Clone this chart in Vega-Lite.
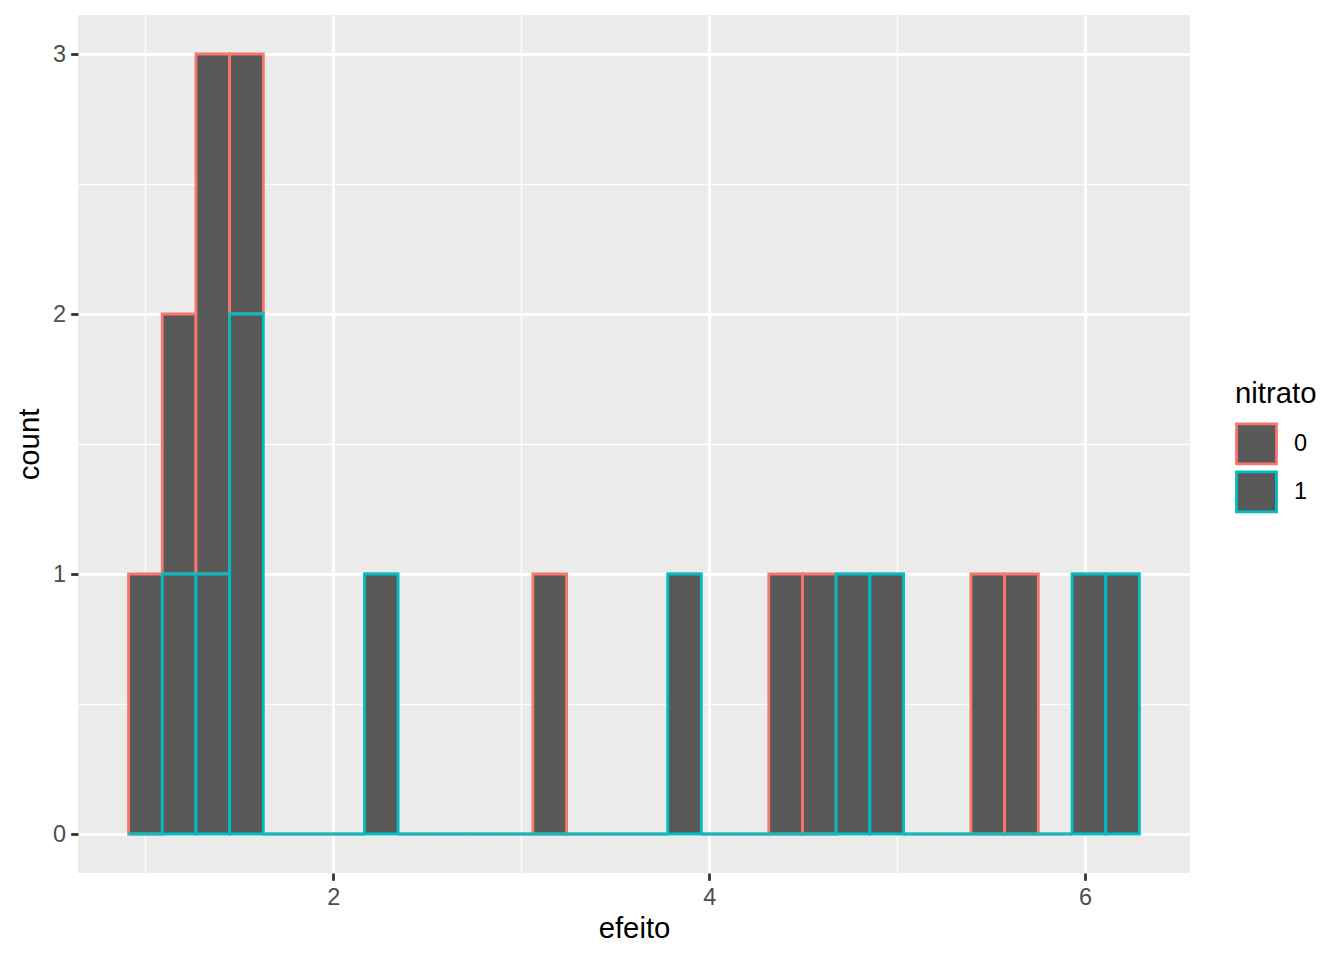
{
  "$schema": "https://vega.github.io/schema/vega-lite/v6.json",
  "description": "Histograma de efeito por nitrato",
  "width": 1112,
  "height": 858,
  "autosize": {"type": "none"},
  "padding": {"left": 78, "top": 15, "right": 154, "bottom": 87},
  "background": "white",
  "config": {
    "font": "Liberation Sans",
    "view": {"fill": "#EBEBEB", "stroke": null},
    "axis": {
      "domain": false,
      "grid": true,
      "gridColor": "white",
      "gridOpacity": 1,
      "tickColor": "#333333",
      "tickWidth": 2.8,
      "tickSize": 7.3,
      "labelColor": "#4D4D4D",
      "labelFontSize": 23.5,
      "labelPadding": 5,
      "titleColor": "black",
      "titleFontSize": 29.3,
      "titleFontWeight": "normal"
    }
  },
  "data": {
    "values": [
      {"nitrato": "0", "inicio": 0.9103, "fim": 1.0897, "count": 1},
      {"nitrato": "0", "inicio": 1.0897, "fim": 1.2690, "count": 1},
      {"nitrato": "0", "inicio": 1.2690, "fim": 1.4483, "count": 2},
      {"nitrato": "0", "inicio": 1.4483, "fim": 1.6276, "count": 1},
      {"nitrato": "0", "inicio": 1.6276, "fim": 1.8069, "count": 0},
      {"nitrato": "0", "inicio": 1.8069, "fim": 1.9862, "count": 0},
      {"nitrato": "0", "inicio": 1.9862, "fim": 2.1655, "count": 0},
      {"nitrato": "0", "inicio": 2.1655, "fim": 2.3448, "count": 0},
      {"nitrato": "0", "inicio": 2.3448, "fim": 2.5241, "count": 0},
      {"nitrato": "0", "inicio": 2.5241, "fim": 2.7034, "count": 0},
      {"nitrato": "0", "inicio": 2.7034, "fim": 2.8828, "count": 0},
      {"nitrato": "0", "inicio": 2.8828, "fim": 3.0621, "count": 0},
      {"nitrato": "0", "inicio": 3.0621, "fim": 3.2414, "count": 1},
      {"nitrato": "0", "inicio": 3.2414, "fim": 3.4207, "count": 0},
      {"nitrato": "0", "inicio": 3.4207, "fim": 3.6000, "count": 0},
      {"nitrato": "0", "inicio": 3.6000, "fim": 3.7793, "count": 0},
      {"nitrato": "0", "inicio": 3.7793, "fim": 3.9586, "count": 0},
      {"nitrato": "0", "inicio": 3.9586, "fim": 4.1379, "count": 0},
      {"nitrato": "0", "inicio": 4.1379, "fim": 4.3172, "count": 0},
      {"nitrato": "0", "inicio": 4.3172, "fim": 4.4966, "count": 1},
      {"nitrato": "0", "inicio": 4.4966, "fim": 4.6759, "count": 1},
      {"nitrato": "0", "inicio": 4.6759, "fim": 4.8552, "count": 0},
      {"nitrato": "0", "inicio": 4.8552, "fim": 5.0345, "count": 0},
      {"nitrato": "0", "inicio": 5.0345, "fim": 5.2138, "count": 0},
      {"nitrato": "0", "inicio": 5.2138, "fim": 5.3931, "count": 0},
      {"nitrato": "0", "inicio": 5.3931, "fim": 5.5724, "count": 1},
      {"nitrato": "0", "inicio": 5.5724, "fim": 5.7517, "count": 1},
      {"nitrato": "0", "inicio": 5.7517, "fim": 5.9310, "count": 0},
      {"nitrato": "0", "inicio": 5.9310, "fim": 6.1103, "count": 0},
      {"nitrato": "0", "inicio": 6.1103, "fim": 6.2897, "count": 0},
      {"nitrato": "1", "inicio": 0.9103, "fim": 1.0897, "count": 0},
      {"nitrato": "1", "inicio": 1.0897, "fim": 1.2690, "count": 1},
      {"nitrato": "1", "inicio": 1.2690, "fim": 1.4483, "count": 1},
      {"nitrato": "1", "inicio": 1.4483, "fim": 1.6276, "count": 2},
      {"nitrato": "1", "inicio": 1.6276, "fim": 1.8069, "count": 0},
      {"nitrato": "1", "inicio": 1.8069, "fim": 1.9862, "count": 0},
      {"nitrato": "1", "inicio": 1.9862, "fim": 2.1655, "count": 0},
      {"nitrato": "1", "inicio": 2.1655, "fim": 2.3448, "count": 1},
      {"nitrato": "1", "inicio": 2.3448, "fim": 2.5241, "count": 0},
      {"nitrato": "1", "inicio": 2.5241, "fim": 2.7034, "count": 0},
      {"nitrato": "1", "inicio": 2.7034, "fim": 2.8828, "count": 0},
      {"nitrato": "1", "inicio": 2.8828, "fim": 3.0621, "count": 0},
      {"nitrato": "1", "inicio": 3.0621, "fim": 3.2414, "count": 0},
      {"nitrato": "1", "inicio": 3.2414, "fim": 3.4207, "count": 0},
      {"nitrato": "1", "inicio": 3.4207, "fim": 3.6000, "count": 0},
      {"nitrato": "1", "inicio": 3.6000, "fim": 3.7793, "count": 0},
      {"nitrato": "1", "inicio": 3.7793, "fim": 3.9586, "count": 1},
      {"nitrato": "1", "inicio": 3.9586, "fim": 4.1379, "count": 0},
      {"nitrato": "1", "inicio": 4.1379, "fim": 4.3172, "count": 0},
      {"nitrato": "1", "inicio": 4.3172, "fim": 4.4966, "count": 0},
      {"nitrato": "1", "inicio": 4.4966, "fim": 4.6759, "count": 0},
      {"nitrato": "1", "inicio": 4.6759, "fim": 4.8552, "count": 1},
      {"nitrato": "1", "inicio": 4.8552, "fim": 5.0345, "count": 1},
      {"nitrato": "1", "inicio": 5.0345, "fim": 5.2138, "count": 0},
      {"nitrato": "1", "inicio": 5.2138, "fim": 5.3931, "count": 0},
      {"nitrato": "1", "inicio": 5.3931, "fim": 5.5724, "count": 0},
      {"nitrato": "1", "inicio": 5.5724, "fim": 5.7517, "count": 0},
      {"nitrato": "1", "inicio": 5.7517, "fim": 5.9310, "count": 0},
      {"nitrato": "1", "inicio": 5.9310, "fim": 6.1103, "count": 1},
      {"nitrato": "1", "inicio": 6.1103, "fim": 6.2897, "count": 1}
    ]
  },
  "transform": [
    {
      "stack": "count",
      "groupby": ["inicio"],
      "sort": [{"field": "nitrato", "order": "descending"}],
      "as": ["base", "topo"]
    }
  ],
  "layer": [
    {
      "mark": {"type": "rect", "opacity": 0},
      "encoding": {
        "x": {
          "field": "inicio",
          "type": "quantitative",
          "scale": {"domain": [0.6413, 6.5587], "nice": false, "zero": false},
          "axis": {
            "orient": "bottom",
            "values": [1, 3, 5],
            "grid": true,
            "gridWidth": 1.4,
            "labels": false,
            "ticks": false,
            "title": null
          }
        },
        "x2": {"field": "fim"},
        "y": {
          "field": "base",
          "type": "quantitative",
          "scale": {"domain": [-0.15, 3.15], "nice": false, "zero": false},
          "axis": {
            "orient": "left",
            "values": [0.5, 1.5, 2.5],
            "grid": true,
            "gridWidth": 1.4,
            "labels": false,
            "ticks": false,
            "title": null
          }
        },
        "y2": {"field": "topo"}
      }
    },
    {
      "mark": {"type": "rect", "fill": "#595959", "strokeWidth": 2.8, "fillOpacity": 1},
      "encoding": {
        "x": {
          "field": "inicio",
          "type": "quantitative",
          "scale": {"domain": [0.6413, 6.5587], "nice": false, "zero": false},
          "axis": {
            "orient": "bottom",
            "values": [2, 4, 6],
            "grid": true,
            "gridWidth": 2.8,
            "title": "efeito",
            "titlePadding": 6
          }
        },
        "x2": {"field": "fim"},
        "y": {
          "field": "base",
          "type": "quantitative",
          "scale": {"domain": [-0.15, 3.15], "nice": false, "zero": false},
          "axis": {
            "orient": "left",
            "values": [0, 1, 2, 3],
            "grid": true,
            "gridWidth": 2.8,
            "title": "count",
            "titlePadding": 8
          }
        },
        "y2": {"field": "topo"},
        "stroke": {
          "field": "nitrato",
          "type": "nominal",
          "scale": {"domain": ["0", "1"], "range": ["#F8766D", "#00BFC4"]},
          "legend": {
            "title": "nitrato",
            "orient": "none",
            "legendX": 1157,
            "legendY": 365,
            "padding": 0,
            "titleFontSize": 29.3,
            "titleFontWeight": "normal",
            "titleColor": "black",
            "titlePadding": 13,
            "symbolType": "square",
            "symbolSize": 1600,
            "symbolStrokeWidth": 2.8,
            "symbolFillColor": "#595959",
            "symbolOpacity": 1,
            "rowPadding": -7,
            "labelFontSize": 23.5,
            "labelColor": "black",
            "labelOffset": 16
          }
        }
      }
    }
  ],
  "resolve": {"axis": {"x": "independent", "y": "independent"}}
}
